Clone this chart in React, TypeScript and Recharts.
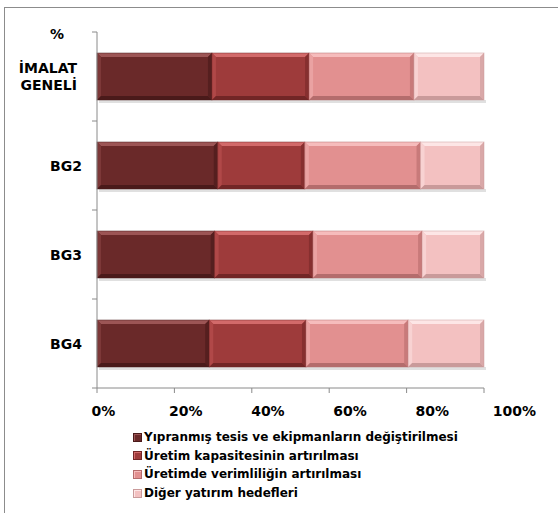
import React from "react";
import { BarChart, Bar, XAxis, YAxis } from "recharts";

const categories = ["İMALAT GENELİ", "BG2", "BG3", "BG4"];
const yipranmis = [29.7, 31.2, 30.4, 29.0];
const kapasite = [25.1, 22.5, 25.4, 25.0];
const verimlilik = [27.1, 29.9, 28.2, 26.4];
const diger = [18.1, 16.4, 16.0, 19.6];

const seriesNames = [
  "Yıpranmış tesis ve ekipmanların değiştirilmesi",
  "Üretim kapasitesinin artırılması",
  "Üretimde verimliliğin artırılması",
  "Diğer yatırım hedefleri",
];
const xTicks = [0, 0.2, 0.4, 0.6, 0.8, 1];

// base, light (top bevel), side light, side dark, bottom dark
const palette = [
  { base: "#6a2929", top: "#9c5555", left: "#7d3838", right: "#551f1f", bottom: "#4a1a1a" },
  { base: "#9e3b3b", top: "#d26a6a", left: "#b04848", right: "#862f2f", bottom: "#722626" },
  { base: "#e29090", top: "#f6bcbc", left: "#eaa2a2", right: "#c87a7a", bottom: "#b46c6c" },
  { base: "#f3c1c1", top: "#fde6e6", left: "#f8d2d2", right: "#d9a8a8", bottom: "#c99a9a" },
];

const keys = ["s1", "s2", "s3", "s4"];
const data = categories.map((name, i) => ({
  name,
  s1: yipranmis[i],
  s2: kapasite[i],
  s3: verimlilik[i],
  s4: diger[i],
}));

const FONT = "'DejaVu Sans', Verdana, sans-serif";
const AXIS = "#8a8a8a";
const LABEL_GAP = 15;

function BevelBar(props: any) {
  const { x, y, width, height, c } = props;
  if (!width || width <= 0) return null;
  const b = 4;
  const r = x + width;
  const btm = y + height;
  return (
    <g>
      <rect x={x + 2} y={btm} width={width} height={3} fill="rgba(0,0,0,0.12)" />
      <rect x={x} y={y} width={width} height={height} fill={c.base} />
      <polygon points={`${x},${y} ${r},${y} ${r - b},${y + b} ${x + b},${y + b}`} fill={c.top} />
      <polygon points={`${x},${y} ${x + b},${y + b} ${x + b},${btm - b} ${x},${btm}`} fill={c.left} />
      <polygon points={`${r},${y} ${r - b},${y + b} ${r - b},${btm - b} ${r},${btm}`} fill={c.right} />
      <polygon points={`${x},${btm} ${r},${btm} ${r - b},${btm - b} ${x + b},${btm - b}`} fill={c.bottom} />
      <rect x={x} y={y} width={width} height={height} fill="none" stroke={c.bottom} strokeOpacity={0.6} strokeWidth={0.8} />
    </g>
  );
}

// category label plus the tick marks between the bands
function CategoryTick(props: any) {
  const { x, y, payload, index } = props;
  const words = String(payload.value).split(" ");
  const lh = 17;
  const start = -((words.length - 1) * lh) / 2 - (words.length > 1 ? 0.5 : 0);
  const half = payload.offset || 44.5;
  const ax = x + LABEL_GAP;
  return (
    <g>
      <line x1={ax - 5} x2={ax} y1={y - half} y2={y - half} stroke={AXIS} />
      {index === categories.length - 1 && (
        <line x1={ax - 5} x2={ax} y1={y + half} y2={y + half} stroke={AXIS} />
      )}
      <text x={x} y={y} textAnchor="end" fontFamily={FONT} fontWeight="bold" fontSize={14} fill="#000">
        {words.map((w, i) => (
          <tspan key={i} x={words.length > 1 ? x - 5 : x} y={y + start + i * lh} dy="0.36em">
            {w}
          </tspan>
        ))}
      </text>
    </g>
  );
}

function PercentTick(props: any) {
  const { x, y, payload } = props;
  const v = payload.value as number;
  return (
    <text
      x={x + 6.5 + v * 24}
      y={y}
      dy="0.71em"
      textAnchor="middle"
      fontFamily={FONT}
      fontWeight="bold"
      fontSize={14}
      fill="#000"
    >
      {Math.round(v * 100) + "%"}
    </text>
  );
}

export default function App() {
  return (
    <div
      style={{
        position: "absolute",
        left: 0,
        top: 0,
        width: 558,
        height: 513,
        overflow: "hidden",
        background: "#fff",
      }}
    >
      <div
        style={{
          position: "absolute",
          left: 4,
          top: 7,
          width: 600,
          height: 600,
          border: "1.5px solid #8c8c8c",
        }}
      />
      <div
        style={{
          position: "absolute",
          left: 50,
          top: 26,
          fontFamily: FONT,
          fontWeight: "bold",
          fontSize: 14,
          lineHeight: "16px",
        }}
      >
        %
      </div>
      <div style={{ position: "absolute", left: 0, top: 0 }}>
        <BarChart
          width={558}
          height={513}
          data={data}
          layout="vertical"
          stackOffset="expand"
          barSize={47}
          margin={{ top: 32, right: 74, bottom: 95, left: 7 }}
        >
          <YAxis
            type="category"
            dataKey="name"
            width={90}
            axisLine={{ stroke: AXIS }}
            tickLine={false}
            tickSize={0}
            tickMargin={LABEL_GAP}
            tick={<CategoryTick />}
          />
          <XAxis
            type="number"
            domain={[0, 1]}
            ticks={xTicks}
            height={30}
            tickSize={5}
            tickMargin={13}
            axisLine={{ stroke: AXIS }}
            tickLine={{ stroke: AXIS }}
            tick={<PercentTick />}
          />
          {keys.map((k, i) => (
            <Bar
              key={k}
              dataKey={k}
              name={seriesNames[i]}
              stackId="a"
              fill={palette[i].base}
              isAnimationActive={false}
              shape={(p: any) => <BevelBar {...p} c={palette[i]} />}
            />
          ))}
        </BarChart>
      </div>
      <div
        style={{
          position: "absolute",
          left: 133,
          top: 428,
          fontFamily: FONT,
          fontWeight: "bold",
          fontSize: 12,
        }}
      >
        {seriesNames.map((n, i) => (
          <div key={n} style={{ display: "flex", alignItems: "center", height: 18.6, whiteSpace: "nowrap" }}>
            <span
              style={{
                display: "inline-block",
                width: 7,
                height: 7,
                background: palette[i].base,
                border: `1px solid ${palette[i].bottom}`,
                boxShadow: `inset 1px 1px 0 ${palette[i].top}`,
                marginRight: 2,
              }}
            />
            {n}
          </div>
        ))}
      </div>
    </div>
  );
}
